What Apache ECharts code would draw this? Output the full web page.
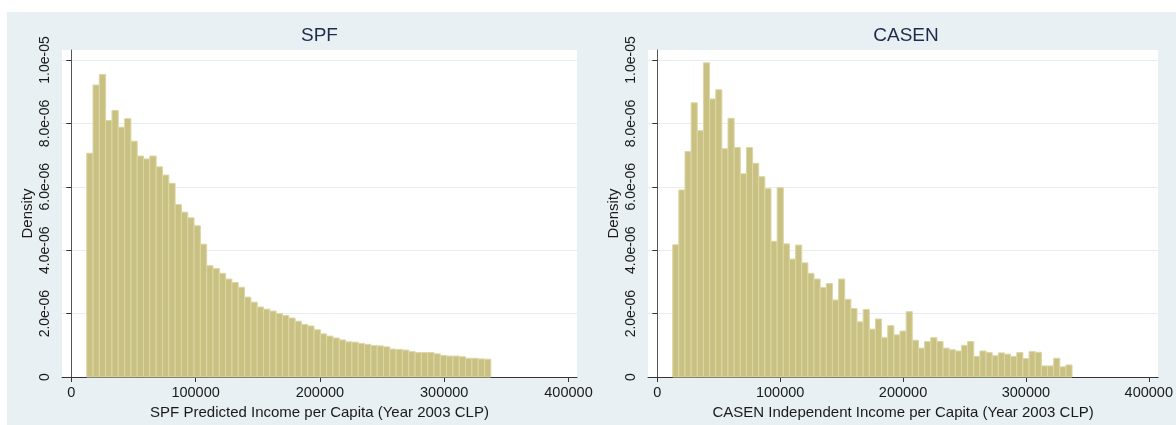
<!DOCTYPE html>
<html>
<head>
<meta charset="utf-8">
<script src="https://cdn.jsdelivr.net/npm/echarts@6/dist/echarts.min.js"></script>
<style>
html,body{margin:0;padding:0;background:#fff;}
#c{width:1176px;height:425px;}
</style>
</head>
<body>
<div id="c"></div>
<script>
// ---------- data ----------
const panelTitles = ['SPF', 'CASEN'];
const xAxisNames = [
  'SPF Predicted Income per Capita (Year 2003 CLP)',
  'CASEN Independent Income per Capita (Year 2003 CLP)'
];
const yAxisName = 'Density';
const xTicks = [0, 100000, 200000, 300000, 400000];
const yTicks = [0, 2e-6, 4e-6, 6e-6, 8e-6, 1e-5];
const yTickLabels = ['0', '2.0e-06', '4.0e-06', '6.0e-06', '8.0e-06', '1.0e-05'];

// histogram bins (lower edge of first bin, bin width)
const spfBinStart = 12400;
const spfBinWidth = 5080;
const casenBinStart = 12550;
const casenBinWidth = 5000;

// densities in units of 1e-6
const spfDensity = [
  7.06, 9.21, 9.54, 8.09, 8.41, 7.88, 8.15, 7.44, 6.97, 6.88,
  6.97, 6.63, 6.37, 6.11, 5.44, 5.20, 5.02, 4.77, 4.19, 3.51,
  3.42, 3.27, 3.09, 2.98, 2.83, 2.52, 2.36, 2.21, 2.14, 2.08,
  2.00, 1.94, 1.86, 1.76, 1.66, 1.61, 1.49, 1.36, 1.29, 1.23,
  1.17, 1.11, 1.10, 1.06, 1.03, 0.99, 0.98, 0.95, 0.88, 0.87,
  0.85, 0.80, 0.77, 0.77, 0.77, 0.73, 0.68, 0.66, 0.66, 0.64,
  0.59, 0.59, 0.57, 0.56
];
const casenDensity = [
  4.17, 5.90, 7.11, 8.65, 7.77, 9.91, 8.77, 9.06, 7.20, 8.16,
  7.24, 6.41, 7.24, 6.74, 6.32, 5.94, 4.28, 5.97, 4.20, 3.72,
  4.16, 3.60, 3.27, 3.09, 2.82, 2.95, 2.43, 3.09, 2.45, 2.16,
  1.74, 2.13, 1.51, 1.83, 1.24, 1.62, 1.33, 1.45, 2.06, 1.16,
  0.91, 1.12, 1.24, 1.12, 0.91, 0.86, 0.82, 1.00, 1.12, 0.65,
  0.82, 0.77, 0.67, 0.76, 0.72, 0.65, 0.77, 0.58, 0.80, 0.78,
  0.35, 0.35, 0.59, 0.32, 0.38
];

// ---------- build ----------
function bins(start, width, dens) {
  return dens.map((d, i) => [start + i * width, start + (i + 1) * width, d * 1e-6]);
}
const histData = [
  bins(spfBinStart, spfBinWidth, spfDensity),
  bins(casenBinStart, casenBinWidth, casenDensity)
];

const FONT = "'Liberation Sans', Arial, sans-serif";
const BG = '#e8f0f3';
const AXIS = '#333333';
const TEXT = '#1a1a1a';

const grids = [
  { left: 62, top: 50, width: 515, height: 327 },
  { left: 648, top: 50, width: 516, height: 327 }
];
const xRanges = [[-7480, 406840], [-7560, 407560]];
const yMax = 1.0315e-5;
const titleCenters = [319.5, 906];

function yLabel(v) {
  for (let i = 0; i < yTicks.length; i++) {
    if (Math.abs(yTicks[i] - v) < 1e-12) return yTickLabels[i];
  }
  return '';
}

const option = {
  backgroundColor: BG,
  animation: false,
  title: panelTitles.map((t, i) => ({
    text: t,
    left: titleCenters[i],
    top: 26,
    padding: 0,
    textAlign: 'center',
    textStyle: { fontFamily: FONT, fontSize: 19, fontWeight: 'normal', color: '#1e2b4d' }
  })),
  graphic: [
    { type: 'rect', shape: { x: 0, y: 0, width: 1176, height: 12 }, style: { fill: '#ffffff' }, silent: true },
    { type: 'rect', shape: { x: 0, y: 0, width: 7, height: 425 }, style: { fill: '#ffffff' }, silent: true }
  ],
  grid: grids.map(g => Object.assign({ show: true, backgroundColor: '#ffffff', borderWidth: 0 }, g)),
  xAxis: [0, 1].map(i => ({
    gridIndex: i,
    type: 'value',
    min: xRanges[i][0],
    max: xRanges[i][1],
    name: xAxisNames[i],
    nameLocation: 'middle',
    nameGap: 24,
    nameTextStyle: { fontFamily: FONT, fontSize: 15, color: TEXT },
    axisLine: { show: true, onZero: false, lineStyle: { color: AXIS, width: 1 } },
    axisTick: { show: true, length: 5, customValues: xTicks, lineStyle: { color: AXIS } },
    axisLabel: { customValues: xTicks, margin: 8, fontFamily: FONT, fontSize: 14.5, color: TEXT,
      formatter: v => String(Math.round(v)) },
    splitLine: { show: false }
  })),
  yAxis: [0, 1].map(i => ({
    gridIndex: i,
    type: 'value',
    min: 0,
    max: yMax,
    name: yAxisName,
    nameLocation: 'middle',
    nameRotate: 90,
    nameGap: 27,
    nameTextStyle: { fontFamily: FONT, fontSize: 15, color: TEXT },
    axisLine: { show: true, lineStyle: { color: '#555555', width: 1 } },
    axisTick: { show: true, length: 5, customValues: yTicks, lineStyle: { color: AXIS } },
    axisLabel: { customValues: yTicks, rotate: 90, margin: 10, fontFamily: FONT, fontSize: 14, color: TEXT,
      formatter: yLabel },
    splitLine: { show: true, lineStyle: { color: '#e6edf0', width: 1 } }
  })),
  series: [0, 1].map(i => ({
    type: 'custom',
    xAxisIndex: i,
    yAxisIndex: i,
    encode: { x: [0, 1], y: 2 },
    data: histData[i],
    renderItem: function (params, api) {
      const p0 = api.coord([api.value(0), api.value(2)]);
      const p1 = api.coord([api.value(1), 0]);
      return {
        type: 'rect',
        shape: { x: p0[0], y: p0[1], width: p1[0] - p0[0], height: p1[1] - p0[1] },
        style: { fill: '#c9c182', stroke: '#dcd6a6', lineWidth: 1 }
      };
    }
  }))
};

const chart = echarts.init(document.getElementById('c'), null, { renderer: 'canvas' });
chart.setOption(option);
</script>
</body>
</html>
